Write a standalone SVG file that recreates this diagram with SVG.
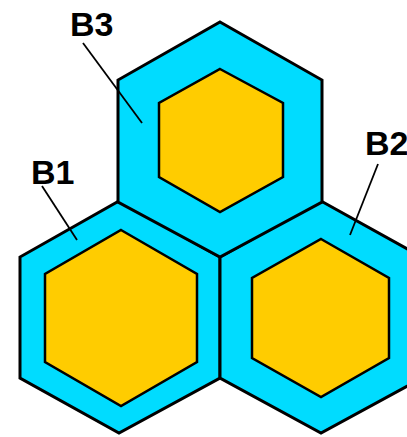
<svg xmlns="http://www.w3.org/2000/svg" width="407" height="437" viewBox="0 0 407 437">
<style>
.outer{fill:#00DCFF;stroke:#000;stroke-width:3;stroke-linejoin:miter}
.inner{fill:#FFCC00;stroke:#000;stroke-width:2.5;stroke-linejoin:miter}
.lbl{font-family:"Liberation Sans",Arial,sans-serif;font-weight:bold;font-size:34px;fill:#000}
.lead{stroke:#000;stroke-width:1.8;fill:none}
</style>
<rect width="407" height="437" fill="#fff"/>
<g id="B1">
<polygon class="outer" points="119,201 220,257 220,378 119,433 20,378 20,257"/>
<polygon class="inner" points="121,230 197,274 197,362 121,406 45,362 45,274"/>
</g>
<g id="B2">
<polygon class="outer" points="321,201 422,257 422,378 321,433 220,378 220,257"/>
<polygon class="inner" points="321,239 389,278 389,358 321,397 252,358 252,278"/>
</g>
<g id="B3">
<polygon class="outer" points="220,22 322,80 322,202 220,257 118,202 118,80"/>
<polygon class="inner" points="220,69 283,103 283,177 220,212 159,177 159,103"/>
</g>
<g id="connectors">
<line class="lead" x1="83" y1="43" x2="142" y2="123"/>
<line class="lead" x1="42" y1="186" x2="77" y2="240"/>
<line class="lead" x1="378" y1="164" x2="350" y2="235"/>
</g>
<g id="labels">
<text class="lbl" x="70" y="36">B3</text>
<text class="lbl" x="31" y="184">B1</text>
<text class="lbl" x="365" y="155">B2</text>
</g>
</svg>
